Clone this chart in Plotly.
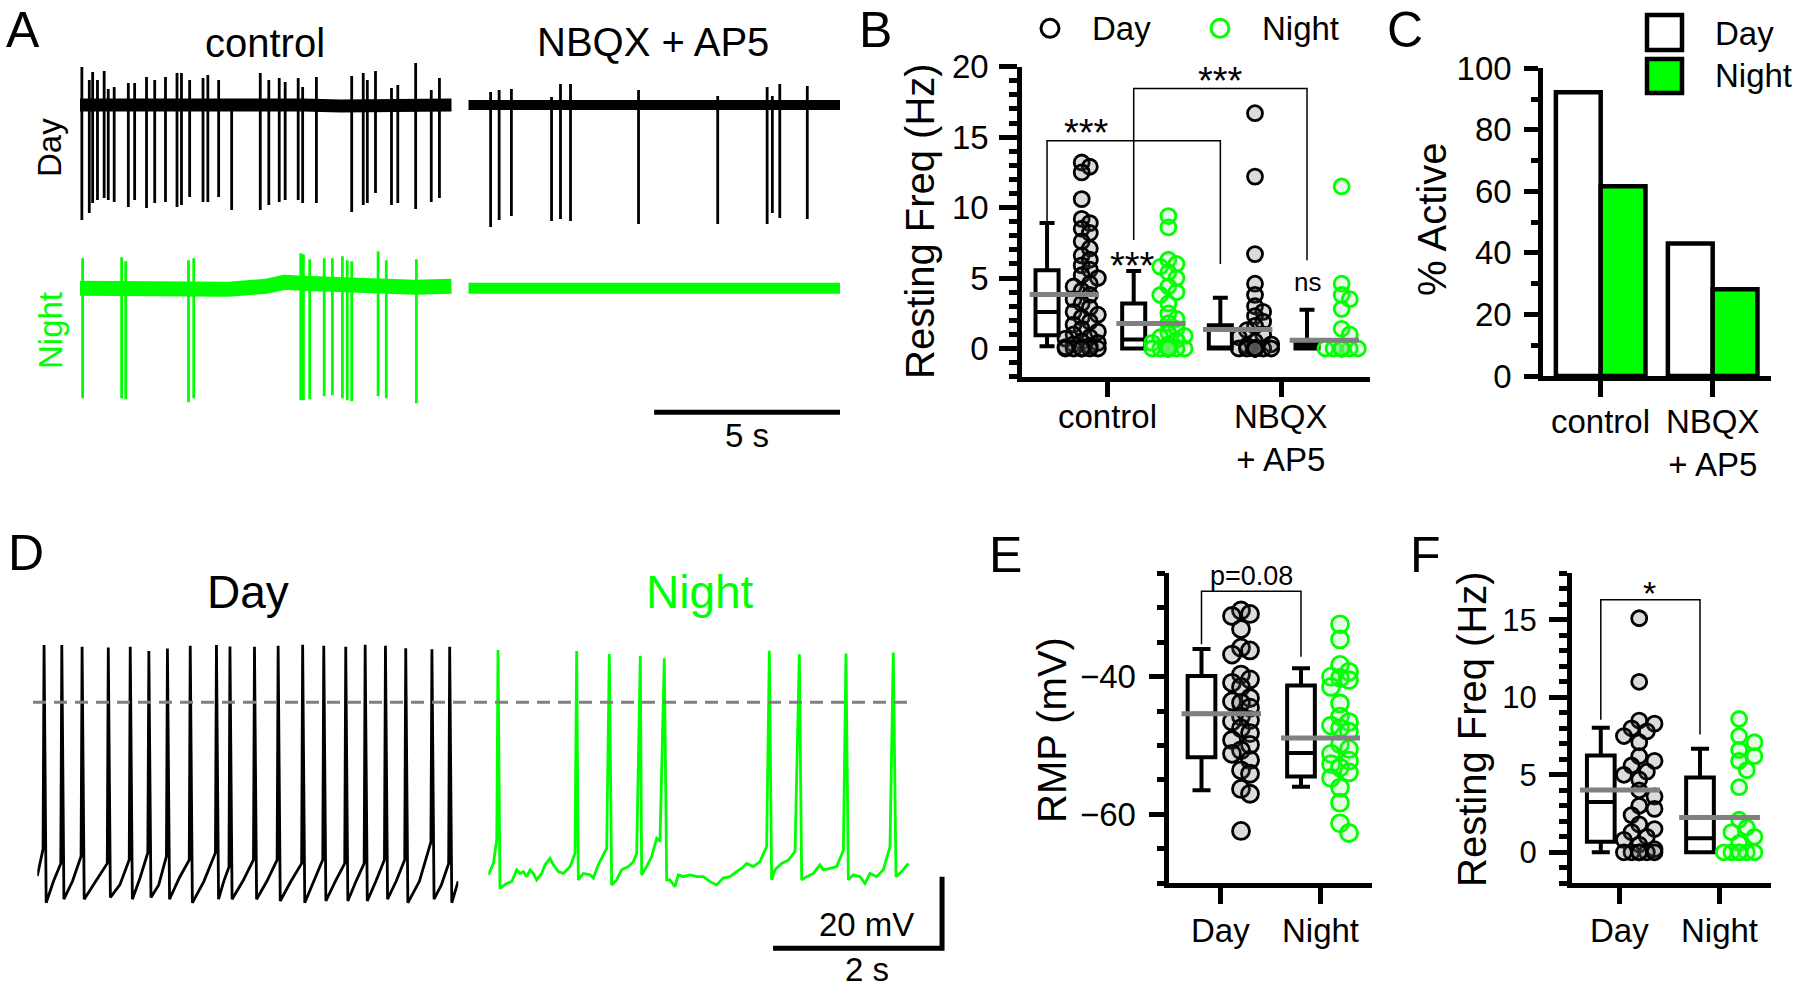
import plotly.graph_objects as go

W, H = 1800, 988
FONT = "Liberation Sans, Arial, Helvetica, sans-serif"
BLACK = "#000000"
GREEN = "#00FF00"
GRAY = "#808080"

# ---------------- Panel A : cell-attached traces (10 s each) ----------------
A_day_ctrl_t = [0.05, 0.25, 0.34, 0.47, 0.65, 0.76, 0.92, 1.30, 1.47, 1.79, 2.01, 2.30, 2.61, 2.73,
                2.95, 3.31, 3.44, 3.73, 4.08, 4.85, 5.08, 5.36, 5.52, 5.87, 5.99, 6.36, 7.31, 7.62,
                7.73, 7.95, 8.38, 8.55, 9.03, 9.45, 9.67]
A_day_ctrl_up = [38, 25, 33, 25, 34, 16, 18, 22, 22, 28, 25, 28, 32, 32, 25, 27, 30, 25, 5, 32, 25,
                 27, 23, 27, 18, 28, 29, 32, 25, 34, 17, 20, 42, 15, 27]
A_day_ctrl_down = [-115, -108, -98, -95, -93, -95, -97, -102, -95, -103, -98, -97, -102, -100, -92,
                   -97, -97, -92, -105, -105, -100, -97, -95, -95, -98, -98, -107, -100, -98, -88,
                   -100, -98, -104, -97, -93]
A_day_ctrl_base_t = [0, 1, 2, 3, 4, 5, 6, 7, 8, 9, 10]
A_day_ctrl_base_v = [0, -1, 1, 0, 0, 1, 0, -1, 0, 1, 0]

A_night_ctrl_t = [0.07, 1.12, 1.23, 2.92, 3.06, 5.94, 6.01, 6.18, 6.57, 6.79, 7.06, 7.19, 7.31, 8.02, 8.24, 9.05]
A_night_ctrl_up = [30, 31, 27, 28, 30, 35, 34, 29, 30, 30, 32, 28, 27, 37, 28, 29]
A_night_ctrl_down = [-110, -110, -111, -114, -110, -112, -112, -111, -108, -107, -110, -112, -113, -108, -110, -115]
A_night_ctrl_base_t = [0, 1, 2, 3, 4, 5, 5.5, 6, 7, 8, 9, 10]
A_night_ctrl_base_v = [0, -1, -2, -1, -1, 2, 6, 5, 3, 2, 1, 2]

A_day_nbqx_t = [0.60, 0.83, 1.16, 2.24, 2.48, 2.75, 4.58, 6.71, 8.04, 8.18, 8.38, 9.12]
A_day_nbqx_up = [13, 15, 16, 8, 21, 21, 15, 9, 18, 9, 21, 19]
A_day_nbqx_down = [-122, -115, -111, -116, -114, -116, -119, -119, -119, -108, -113, -114]
A_flat_t = [0, 10]
A_flat_v = [0, 0]
A_scale_s = 5

# ---------------- Panel B : resting frequency (Hz) ----------------
B_groups = ["control", "NBQX<br>+ AP5"]
B_ctrl_day = [13.2, 12.9, 12.5, 10.6, 9.2, 8.9, 8.5, 8.2, 7.6, 7.1, 6.6, 6.3, 5.9, 5.6, 5.2, 5.0, 4.6,
              4.4, 4.1, 3.8, 3.5, 3.2, 2.9, 2.6, 2.4, 2.2, 1.9, 1.7, 1.4, 1.2, 1.0, 0.8, 0.7, 0.5, 0.4,
              0.3, 0.2, 0.1, 0.0, 0.0, 0.0, 0.0, 0.0, 0.0]
B_ctrl_night = [9.4, 8.6, 6.3, 6.0, 5.8, 5.4, 5.0, 4.4, 4.0, 3.8, 3.2, 2.5, 2.1, 1.8, 1.4, 1.1, 0.9,
                0.8, 0.6, 0.4, 0.3, 0.0, 0.0, 0.0, 0.0, 0.0, 0.0, 0.0, 0.0, 0.0, 0.0, 0.0, 0.0, 0.0, 0.0]
B_nbqx_day = [16.7, 12.2, 6.7, 4.6, 3.8, 3.0, 2.6, 2.3, 1.9, 1.6, 1.3, 1.0, 0.8, 0.5, 0.3, 0.2,
              0.0, 0.0, 0.0, 0.0, 0.0, 0.0, 0.0, 0.0, 0.0, 0.0, 0.0, 0.0, 0.0, 0.0]
B_nbqx_night = [11.5, 4.6, 3.8, 3.5, 2.8, 1.4, 1.0, 0.0, 0.0, 0.0, 0.0, 0.0, 0.0, 0.0, 0.0, 0.0, 0.0]
B_box_day = dict(q1=[0.95, 0.0], med=[2.6, 0.0], q3=[5.56, 1.65], lo=[0.16, 0.0], hi=[8.9, 3.6])
B_box_night = dict(q1=[0.0, 0.0], med=[0.64, 0.0], q3=[3.2, 0.35], lo=[0.0, 0.0], hi=[5.5, 2.75])
B_mean_day = [3.83, 1.35]
B_mean_night = [1.78, 0.59]

# ---------------- Panel C : % active ----------------
C_groups = ["control", "NBQX<br>+ AP5"]
C_day = [92.2, 43.1]
C_night = [61.7, 28.2]

# ---------------- Panel D : whole-cell traces (5 s) ----------------
D_day_spk_t = [0.08, 0.29, 0.53, 0.84, 1.10, 1.32, 1.54, 1.81, 2.12, 2.28, 2.57, 2.85, 3.14, 3.39,
               3.65, 3.88, 4.12, 4.36, 4.67, 4.88]
D_day_peak = [16.0, 16.0, 15.5, 15.3, 15.5, 14.3, 15.0, 15.8, 16.0, 15.6, 15.5, 15.8, 16.1, 15.8,
              15.5, 16.1, 15.8, 15.1, 14.8, 15.5]
D_day_pre = [-41, -45, -43, -45, -44, -42, -43, -44, -42, -46, -44, -44, -45, -44, -45, -45, -44,
             -44, -39, -45]
D_day_trough = [-56, -55, -55, -54.5, -55, -54.5, -55, -56, -55, -55, -55, -55.5, -56, -55.5, -55.5,
                -55.5, -55, -56, -55, -56]
D_day_mid = [-50, -50, -50, -51, -49, -51, -49, -50, -50, -50, -50, -50, -50, -50, -50, -50, -50, -50, -51]
D_day_start = -48.5
D_day_end = -50.0
D_day_dur = 4.98

D_night_t = [0.0, 0.06, 0.10, 0.138, 0.217, 0.277, 0.336, 0.375, 0.415, 0.454, 0.494, 0.533, 0.572,
             0.632, 0.671, 0.730, 0.770, 0.829, 0.888, 0.967, 1.026, 1.065, 1.125, 1.204, 1.243, 1.302,
             1.361, 1.401, 1.460, 1.519, 1.578, 1.657, 1.716, 1.756, 1.815, 1.874, 1.933, 1.992, 2.032,
             2.111, 2.150, 2.209, 2.249, 2.308, 2.387, 2.466, 2.545, 2.624, 2.702, 2.781, 2.860, 2.939,
             2.998, 3.058, 3.137, 3.215, 3.294, 3.353, 3.393, 3.472, 3.551, 3.630, 3.709, 3.768, 3.847,
             3.925, 3.965, 4.044, 4.123, 4.202, 4.261, 4.320, 4.399, 4.458, 4.517, 4.596, 4.675, 4.754,
             4.825, 4.892, 4.971]
D_night_v = [-48.2, -45.0, -38.5, -52.0, -50.6, -50.1, -46.8, -47.8, -47.3, -48.7, -46.8, -47.8, -49.6,
             -47.8, -45.4, -43.6, -45.4, -47.3, -47.8, -45.9, -42.2, -49.6, -47.8, -48.2, -49.1, -45.4,
             -42.6, -40.8, -51.0, -49.6, -46.8, -45.9, -44.5, -42.2, -48.2, -45.9, -43.1, -38.0, -38.9,
             -49.6, -49.6, -51.5, -48.2, -48.7, -48.2, -48.7, -48.7, -50.1, -51.0, -49.1, -48.7, -47.3,
             -46.4, -45.0, -45.9, -44.5, -40.3, -49.6, -46.8, -45.0, -44.1, -41.7, -49.6, -48.7, -47.8,
             -45.4, -46.8, -46.4, -45.9, -41.3, -49.6, -48.2, -48.7, -50.6, -47.8, -48.7, -46.8, -40.3,
             -48.7, -47.3, -45.0]
D_night_spk_t = [0.115, 1.046, 1.432, 1.799, 2.083, 3.326, 3.681, 4.233, 4.793]
D_night_peak = [14.6, 14.3, 13.5, 13.0, 12.3, 14.4, 13.4, 13.6, 13.9]
D_scale_s = 2
D_scale_mV = 20

# ---------------- Panel E : RMP (mV) ----------------
E_groups = ["Day", "Night"]
E_day = [-30.4, -30.9, -31.2, -33.1, -35.8, -36.2, -36.8, -39.7, -40.4, -40.9, -41.5, -43.1, -43.6,
         -43.8, -44.5, -45.8, -46.3, -46.5, -47.5, -48.2, -49.2, -49.9, -50.7, -51.2, -52.1, -53.6,
         -54.1, -56.3, -57.0, -62.4]
E_night = [-32.4, -34.6, -38.3, -39.3, -40.0, -40.2, -40.5, -41.5, -43.9, -45.8, -46.6, -47.1, -47.5,
           -48.0, -49.8, -50.5, -51.2, -52.2, -52.7, -53.2, -53.9, -54.7, -56.1, -58.3, -61.3, -62.7]
E_box = dict(q1=[-51.7, -54.5], med=[-45.4, -51.1], q3=[-39.9, -41.3], lo=[-56.5, -56.0], hi=[-36.0, -38.8])
E_mean = [-45.4, -48.9]

# ---------------- Panel F : resting frequency (Hz) ----------------
F_groups = ["Day", "Night"]
F_day = [15.1, 11.0, 8.5, 8.3, 8.0, 7.8, 7.5, 7.1, 6.2, 5.9, 5.6, 5.2, 5.0, 4.7, 4.0, 3.6, 3.0, 2.8,
         2.4, 1.8, 1.5, 1.3, 1.0, 0.8, 0.5, 0.2, 0.0, 0.0, 0.0, 0.0, 0.0, 0.0]
F_night = [8.6, 7.5, 7.1, 6.6, 6.2, 5.9, 5.3, 4.2, 2.1, 1.6, 1.3, 1.0, 0.6, 0.0, 0.0, 0.0, 0.0, 0.0, 0.0]
F_box = dict(q1=[0.68, 0.0], med=[3.25, 0.9], q3=[6.25, 4.82], lo=[0.0, 0.0], hi=[8.03, 6.68])
F_mean = [4.02, 2.25]

# =====================================================================
fig = go.Figure()


def px_x(px):
    return px / W


def px_y(py):
    return 1 - py / H


# axis specs: index -> (x0px, x1px, top_px, bottom_px, xrange, yrange)
AX = {
    1: (80, 451.7, 60, 235, [0, 10], [-130, 45]),
    2: (468.3, 840, 60, 235, [0, 10], [-130, 45]),
    3: (80, 451.7, 243.3, 418.3, [0, 10], [-130, 45]),
    4: (468.3, 840, 243.3, 418.3, [0, 10], [-130, 45]),
    5: (1022, 1370, 66.7, 376.7, [0.5055, 2.5135], [-2, 20]),
    6: (1543, 1770.7, 68.3, 376, [0.485, 2.518], [0, 100]),
    7: (37.3, 458.3, 620, 960, [0, 4.982], [-71.98, 22.99]),
    8: (488.3, 948.3, 620, 960, [0, 5.444], [-71.98, 22.99]),
    9: (1169.3, 1371.7, 573.3, 883.3, [0.493, 2.517], [-70, -25]),
    10: (1571.7, 1770.7, 573.3, 883.3, [0.514, 2.518], [-2, 18]),
}


def xr(i):
    return "x" if i == 1 else f"x{i}"


def yr(i):
    return "y" if i == 1 else f"y{i}"


def pxs(i):
    x0, x1, t, b, xrg, yrg = AX[i]
    return (x1 - x0) / (xrg[1] - xrg[0]), (b - t) / (yrg[1] - yrg[0])


layout_axes = {}
for i, (x0, x1, t, b, xrg, yrg) in AX.items():
    xn = "xaxis" if i == 1 else f"xaxis{i}"
    yn = "yaxis" if i == 1 else f"yaxis{i}"
    layout_axes[xn] = dict(domain=[px_x(x0), px_x(x1)], range=xrg, anchor=yr(i), visible=False,
                           fixedrange=True, automargin=False)
    layout_axes[yn] = dict(domain=[px_y(b), px_y(t)], range=yrg, anchor=xr(i), visible=False,
                           fixedrange=True, automargin=False)

LW = 4.5


def style_y(i, dtick, tick0, ticklen, mdtick, mlen, fsize=33, standoff=4):
    yn = "yaxis" if i == 1 else f"yaxis{i}"
    layout_axes[yn].update(visible=True, showgrid=False, zeroline=False, showline=True, linecolor=BLACK,
                           linewidth=LW, ticks="outside", tickcolor=BLACK, tickwidth=LW, ticklen=ticklen,
                           tickmode="linear", dtick=dtick, tick0=tick0,
                           tickfont=dict(family=FONT, size=fsize, color=BLACK),
                           ticklabelstandoff=standoff,
                           minor=dict(ticks="outside", dtick=mdtick, tick0=0, ticklen=mlen, tickwidth=LW,
                                      tickcolor=BLACK, showgrid=False))


def style_x(i, vals):
    xn = f"xaxis{i}"
    layout_axes[xn].update(visible=True, showgrid=False, zeroline=False, showline=True, linecolor=BLACK,
                           linewidth=LW, ticks="outside", tickcolor=BLACK, tickwidth=LW, ticklen=16,
                           tickmode="array", tickvals=vals, showticklabels=False)


cats = [1, 2]
style_y(5, 5, 0, 18, 1, 8, standoff=4)
style_x(5, cats)
style_y(6, 20, 0, 14, 10, 7, standoff=6)
style_x(6, cats)
style_y(9, 20, -40, 16, 5, 8, standoff=6)
style_x(9, cats)
style_y(10, 5, 0, 18, 1, 8, fsize=31, standoff=6)
style_x(10, cats)


def line(i, x, y, color, width, dash=None, clip=True):
    fig.add_trace(go.Scatter(x=x, y=y, mode="lines", xaxis=xr(i), yaxis=yr(i), cliponaxis=clip,
                             line=dict(color=color, width=width, dash=dash), hoverinfo="skip"))


def spike_path(ts, ups, downs):
    xs, ys = [], []
    for t, u, d in zip(ts, ups, downs):
        xs += [t, t, None]
        ys += [u, d, None]
    return xs, ys


# ---------- Panel A ----------
line(1, A_day_ctrl_base_t, A_day_ctrl_base_v, BLACK, 13)
sx, sy = spike_path(A_day_ctrl_t, A_day_ctrl_up, A_day_ctrl_down)
line(1, sx, sy, BLACK, 2.8)
line(2, A_flat_t, A_flat_v, BLACK, 10)
sx, sy = spike_path(A_day_nbqx_t, A_day_nbqx_up, A_day_nbqx_down)
line(2, sx, sy, BLACK, 2.8)
line(3, A_night_ctrl_base_t, A_night_ctrl_base_v, GREEN, 15)
sx, sy = spike_path(A_night_ctrl_t, A_night_ctrl_up, A_night_ctrl_down)
line(3, sx, sy, GREEN, 2.8)
line(4, A_flat_t, A_flat_v, GREEN, 11)
line(4, [10 - A_scale_s, 10], [-124, -124], BLACK, 5)

# ---------- Panel D ----------
dx, dy = [0], [D_day_start]
for k, t in enumerate(D_day_spk_t):
    dx += [t - 0.012, t, t + 0.025]
    dy += [D_day_pre[k], D_day_peak[k], D_day_trough[k]]
    if k < len(D_day_mid):
        dx.append(((t + 0.025) + (D_day_spk_t[k + 1] - 0.012)) / 2)
        dy.append(D_day_mid[k])
dx.append(D_day_dur)
dy.append(D_day_end)
line(7, dx, dy, BLACK, 2.8)

pts = sorted(list(zip(D_night_t, D_night_v)) + list(zip(D_night_spk_t, D_night_peak)))
line(8, [p[0] for p in pts], [p[1] for p in pts], GREEN, 2.8)
# scale bar (2 s, 20 mV)
sb_x, sb_y = 5.37, -68.7
line(8, [sb_x - D_scale_s, sb_x, sb_x], [sb_y, sb_y, sb_y + D_scale_mV], BLACK, 5)


# ---------- helpers for dot/box panels ----------
def swarm(vals, cx, ppx, ppy, d, hw, tol=0.5):
    placed = []
    xs = [0.0] * len(vals)
    order = sorted(range(len(vals)), key=lambda j: -vals[j])
    step = d * 0.45
    cands = [0.0]
    k = 1
    while k * step <= hw + 0.1:
        cands += [k * step, -k * step]
        k += 1
    for j in order:
        y = vals[j] * ppy
        best, bestscore = 0.0, -1
        for c in cands:
            mind = min([((c - a) ** 2 + (y - b) ** 2) ** 0.5 for a, b in placed], default=1e9)
            if mind >= d * tol:
                best = c
                break
            if mind > bestscore:
                bestscore, best = mind, c
        placed.append((best, y))
        xs[j] = cx + best / ppx
    return xs


def dots(i, vals, cx, color, fill, size, d, hw=17, tol=0.5):
    ppx, ppy = pxs(i)
    xs = swarm(vals, cx, ppx, ppy, d, hw, tol)
    fig.add_trace(go.Scatter(x=xs, y=vals, mode="markers", xaxis=xr(i), yaxis=yr(i), hoverinfo="skip",
                             marker=dict(symbol="circle", size=size, color=fill,
                                         line=dict(color=color, width=2.8))))


def boxes(i, pos, st, width):
    fig.add_trace(go.Box(x=pos, q1=st["q1"], median=st["med"], q3=st["q3"], lowerfence=st["lo"],
                         upperfence=st["hi"], width=width, fillcolor="white", whiskerwidth=0.65,
                         line=dict(color=BLACK, width=4), boxpoints=False, xaxis=xr(i), yaxis=yr(i),
                         hoverinfo="skip"))


def mean_lines(i, box_pos, sc_pos, means, ext):
    xs, ys = [], []
    for b, s, m in zip(box_pos, sc_pos, means):
        xs += [b - ext, s + ext, None]
        ys += [m, m, None]
    line(i, xs, ys, GRAY, 5)


DAY_FILL = "rgba(90,90,90,0.22)"
NIGHT_FILL = "rgba(110,235,110,0.18)"

# ---------- Panel B ----------
b_box_day = [c - 0.35 for c in cats]
b_sc_day = [c - 0.15 for c in cats]
b_box_night = [c + 0.15 for c in cats]
b_sc_night = [c + 0.35 for c in cats]
boxes(5, b_box_day, B_box_day, 0.133)
boxes(5, b_box_night, B_box_night, 0.133)
dots(5, B_ctrl_day, b_sc_day[0], BLACK, DAY_FILL, 15, 18)
dots(5, B_nbqx_day, b_sc_day[1], BLACK, DAY_FILL, 15, 18)
dots(5, B_ctrl_night, b_sc_night[0], GREEN, NIGHT_FILL, 15, 18)
dots(5, B_nbqx_night, b_sc_night[1], GREEN, NIGHT_FILL, 15, 18)
mean_lines(5, b_box_day, b_sc_day, B_mean_day, 0.1)
mean_lines(5, b_box_night, b_sc_night, B_mean_night, 0.1)
line(5, [b_box_day[0]] * 2 + [b_box_day[1]] * 2, [9.0, 14.75, 14.75, 6.0], BLACK, 1.5)
line(5, [b_box_night[0]] * 2 + [b_box_night[1]] * 2, [7.7, 18.46, 18.46, 6.27], BLACK, 1.5)

# ---------- Panel C ----------
fig.add_trace(go.Bar(x=[c - 0.2 for c in cats], y=C_day, width=0.4, xaxis="x6", yaxis="y6",
                     marker=dict(color="white", line=dict(color=BLACK, width=4.5)), hoverinfo="skip"))
fig.add_trace(go.Bar(x=[c + 0.2 for c in cats], y=C_night, width=0.4, xaxis="x6", yaxis="y6",
                     marker=dict(color=GREEN, line=dict(color=BLACK, width=4.5)), hoverinfo="skip"))

# ---------- Panel E ----------
e_box = [0.815, 1.81]
e_sc = [1.21, 2.20]
boxes(9, e_box, E_box, 0.277)
dots(9, E_day, e_sc[0], BLACK, DAY_FILL, 17, 20, tol=0.6)
dots(9, E_night, e_sc[1], GREEN, NIGHT_FILL, 17, 20, tol=0.6)
mean_lines(9, e_box[:1], e_sc[:1], E_mean[:1], 0.2)
mean_lines(9, e_box[1:], e_sc[1:], E_mean[1:], 0.2)
line(9, [e_box[0]] * 2 + [e_box[1]] * 2, [-35.3, -27.6, -27.6, -37.1], BLACK, 1.5)

# ---------- Panel F ----------
f_box = [0.807, 1.806]
f_sc = [1.194, 2.20]
boxes(10, f_box, F_box, 0.279)
dots(10, F_day, f_sc[0], BLACK, DAY_FILL, 15, 17, tol=0.6)
dots(10, F_night, f_sc[1], GREEN, NIGHT_FILL, 15, 17, tol=0.6)
mean_lines(10, f_box[:1], f_sc[:1], F_mean[:1], 0.21)
mean_lines(10, f_box[1:], f_sc[1:], F_mean[1:], 0.21)
line(10, [f_box[0]] * 2 + [f_box[1]] * 2, [8.55, 16.3, 16.3, 7.6], BLACK, 1.5)

# ---------- annotations ----------
anns = []


def ann(text, px, py, size, color=BLACK, angle=0, xanchor="center"):
    anns.append(dict(text=text, x=px_x(px), y=px_y(py), xref="paper", yref="paper", showarrow=False,
                     xanchor=xanchor, yanchor="middle", textangle=angle,
                     font=dict(family=FONT, size=size, color=color)))


def dann(i, text, x, y, size, yshift=0):
    anns.append(dict(text=text, x=x, y=y, xref=xr(i), yref=yr(i), showarrow=False, xanchor="center",
                     yanchor="middle", yshift=yshift, font=dict(family=FONT, size=size, color=BLACK)))


def cat_labels(i, labels, top_px):
    for c, lab in zip(cats, labels):
        anns.append(dict(text=lab, x=c, y=px_y(top_px), xref=xr(i), yref="paper", showarrow=False,
                         xanchor="center", yanchor="top", align="center",
                         font=dict(family=FONT, size=33, color=BLACK)))


cat_labels(5, B_groups, 396)
cat_labels(6, C_groups, 401)
cat_labels(9, E_groups, 910)
cat_labels(10, F_groups, 910)

# panel letters
for lt, (lx, ly) in {"A": (23, 30), "B": (875, 30), "C": (1405, 30), "D": (26, 553),
                     "E": (1005, 555), "F": (1425, 555)}.items():
    ann(lt, lx, ly, 50)

# A
ann("control", 265, 43, 40)
ann("NBQX + AP5", 653, 42, 40)
ann("Day", 50, 148, 33, angle=-90)
ann("Night", 50, 331, 33, color=GREEN, angle=-90)
ann("5 s", 746.7, 435, 33)
# D
ann("Day", 248, 592, 46)
ann("Night", 700, 592, 46, color=GREEN)
ann("20 mV", 866.7, 924, 33)
ann("2 s", 866.7, 969, 33)
# axis titles
ann("Resting Freq (Hz)", 920, 221, 40, angle=-90)
ann("% Active", 1432, 220, 40, angle=-90)
ann("RMP (mV)", 1052, 730, 40, angle=-90)
ann("Resting Freq (Hz)", 1472, 729, 40, angle=-90)
# B legend text
ann("Day", 1090, 29, 33, xanchor="left")
ann("Night", 1260, 29, 33, xanchor="left")
# C legend text
ann("Day", 1713, 33.3, 33, xanchor="left")
ann("Night", 1713, 75, 33, xanchor="left")

# significance labels
dann(5, "***", 0.879, 15.9, 38, yshift=-9)
dann(5, "***", 1.648, 19.6, 38, yshift=-9)
dann(5, "***", 1.142, 6.5, 38, yshift=-9)
dann(5, "ns", 2.154, 4.6, 26, yshift=2)
dann(9, "p=0.08", 1.317, -25.35, 27)
dann(10, "*", 1.302, 17.24, 34, yshift=-8)

# legend keys (shapes)
shapes = []


def circ(cx, cy, r, color):
    shapes.append(dict(type="circle", xref="paper", yref="paper", x0=px_x(cx - r), x1=px_x(cx + r),
                       y0=px_y(cy + r), y1=px_y(cy - r), line=dict(color=color, width=3), fillcolor="white"))


def sq(x0, y0, x1, y1, fill):
    shapes.append(dict(type="rect", xref="paper", yref="paper", x0=px_x(x0), x1=px_x(x1),
                       y0=px_y(y1), y1=px_y(y0), line=dict(color=BLACK, width=4.5), fillcolor=fill))


circ(1050, 28.3, 9, BLACK)
circ(1220, 28.3, 9, GREEN)
sq(1647, 15, 1682, 50, "white")
sq(1647, 59, 1682, 93, GREEN)
# D dashed reference line at 0 mV
shapes.append(dict(type="line", xref="paper", yref="y7", x0=px_x(33), x1=px_x(910), y0=0, y1=0,
                   line=dict(color=GRAY, width=3, dash="13px,8px")))

fig.update_layout(width=W, height=H, autosize=False,
                  margin=dict(l=0, r=0, t=0, b=0, pad=0, autoexpand=False), paper_bgcolor="white",
                  plot_bgcolor="rgba(0,0,0,0)", showlegend=False, barmode="overlay", boxmode="overlay",
                  font=dict(family=FONT, color=BLACK, size=33), annotations=anns, shapes=shapes,
                  **layout_axes)

fig.write_html("out.html", config={"displayModeBar": False, "responsive": False},
               post_script="document.body.style.margin='0';document.body.style.overflow='hidden';")
